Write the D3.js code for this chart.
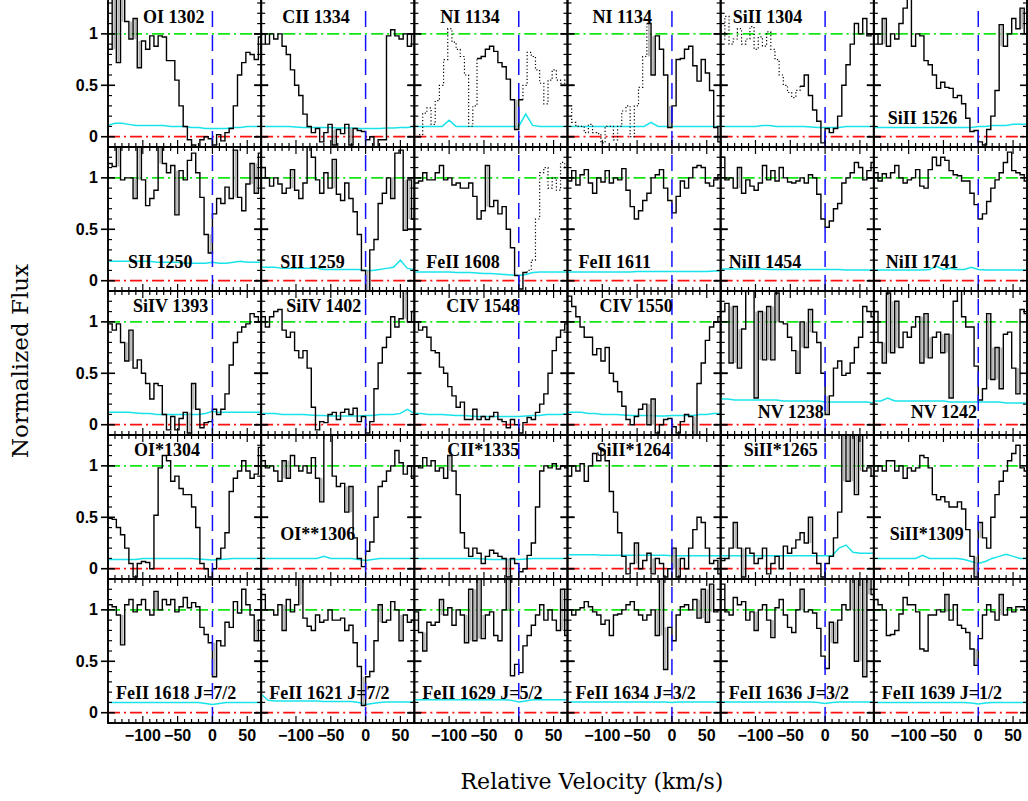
<!DOCTYPE html>
<html>
<head>
<meta charset="utf-8">
<script src="https://cdn.jsdelivr.net/npm/d3@7"></script>
<style>
  body { margin: 0; background: #fff; }
  svg { display: block; }
</style>
</head>
<body>
<div id="chart"></div>
<script>
// velocity grid of the histograms (km/s)
var binStart = -150, binWidth = 6;
// velocity grid of the error spectra (km/s)
var errStart = -150, errStep = 10;

var xTickLabels = [-100, -50, 0, 50];
var yTickLabels = [0, 0.5, 1];

// ---- normalized flux, one value per 6 km/s bin ----
var fluxOI1302 = [0.85,1.4,0.72,1.4,1.12,0.95,1.15,0.67,0.93,0.85,0.98,0.88,0.98,0.97,0.74,0.74,0.55,0.3,0.1,-0.03,-0.08,-0.12,-0.03,0.0,-0.02,-0.08,0.02,-0.04,0.04,0.08,0.3,0.6,0.72,0.82,0.8,0.75,0.97];
var fluxCII1334 = [1.0,0.9,1.0,0.95,1.0,0.88,0.8,0.65,0.5,0.4,0.22,0.1,0.04,0.08,-0.05,0.04,0.12,-0.08,0.07,0.03,0.12,-0.08,0.08,0.06,0.05,-0.03,0.0,-0.1,-0.03,-0.03,0.98,1.04,0.98,0.95,1.0,0.88,1.0];
var fluxNI1134a = [0.0,0.02,0.23,0.28,0.12,0.35,0.5,0.75,1.05,0.92,0.85,0.78,0.6,0.1,0.3,0.76,0.78,0.85,0.88,0.83,0.72,0.68,0.56,0.36,0.07,0.36,0.5,0.82,0.78,0.65,0.52,0.32,0.55,0.65,0.55,0.52,0.55];
var fluxNI1134b = [0.3,0.14,0.1,0.1,0.04,0.12,0.04,0.03,-0.06,0.1,0.1,-0.03,0.1,0.25,0.3,0.0,0.3,0.48,0.78,1.1,0.6,0.98,0.85,0.6,0.09,0.3,0.75,0.76,0.85,0.88,0.69,0.54,0.75,0.62,0.45,0.09,-0.05];
var fluxSiII1304 = [0.95,1.17,0.9,0.95,1.05,0.9,0.95,1.07,0.85,0.97,0.88,1.02,0.85,0.75,0.6,0.5,0.43,0.38,0.45,0.49,0.6,0.4,0.26,0.15,-0.06,0.08,0.04,0.08,0.2,0.5,0.7,0.9,1.1,1.0,1.15,0.98,1.0];
var fluxSiII1526 = [1.0,0.9,1.15,0.88,1.0,0.95,1.1,1.25,1.35,0.88,1.0,0.98,0.74,0.7,0.6,0.47,0.53,0.48,0.47,0.38,0.4,0.32,0.18,0.05,0.06,-0.05,-0.08,0.07,0.2,0.45,1.09,0.88,1.0,1.15,1.05,1.25,1.0];

var fluxSII1250 = [1.14,1.11,1.3,0.98,1.0,1.0,0.8,1.35,0.98,0.73,0.8,0.88,1.35,1.14,1.05,1.12,0.64,1.07,0.98,1.17,1.24,1.05,0.81,0.45,0.27,0.65,0.8,0.75,0.91,0.8,1.27,0.81,0.68,0.94,1.14,0.85,1.24];
var fluxSII1259 = [1.1,1.0,0.92,1.0,0.94,0.85,0.9,1.08,0.88,0.8,0.95,1.3,1.2,0.98,0.85,1.05,0.9,1.18,0.84,0.78,0.95,0.8,0.67,0.45,0.1,-0.1,0.3,0.4,0.75,0.85,1.0,0.8,1.24,1.27,0.49,0.98,0.6];
var fluxFeII1608 = [0.95,0.97,1.05,0.98,0.98,1.05,1.12,0.98,1.0,0.93,0.95,0.9,0.9,0.95,0.82,0.6,0.68,1.12,0.72,0.78,0.65,0.72,0.5,0.32,0.05,-0.08,0.08,0.1,0.2,0.6,1.05,1.1,0.9,1.0,0.88,1.15,1.1];
var fluxFeII1611 = [0.97,1.07,0.93,1.03,1.08,0.95,0.85,1.0,0.96,1.07,0.95,1.0,0.98,1.09,0.88,0.72,0.6,0.68,0.78,0.85,1.0,1.03,1.08,0.9,0.78,0.66,0.82,0.97,0.9,1.0,1.1,1.12,1.1,0.95,0.92,0.98,1.03];
var fluxNiII1454 = [1.2,0.98,1.0,0.9,1.1,0.85,0.98,0.92,0.88,0.95,1.12,0.98,1.07,0.97,1.1,1.0,0.96,0.95,0.97,1.0,0.95,1.03,1.0,0.84,0.6,0.52,0.58,0.7,0.75,0.95,1.0,1.05,1.15,1.1,0.98,1.07,1.15];
var fluxNiII1741 = [1.05,0.97,1.04,1.0,1.05,1.12,1.0,0.95,0.98,1.0,1.08,0.92,0.9,1.08,1.2,1.12,1.2,1.17,1.07,1.03,1.02,0.97,0.97,0.85,0.74,0.6,0.65,0.77,0.9,0.98,1.05,1.15,1.25,1.07,1.05,1.03,0.97];

var fluxSiIV1393 = [0.98,0.92,0.98,0.8,0.62,0.92,0.55,0.63,0.5,0.4,0.25,0.4,0.38,0.1,-0.05,0.08,-0.05,0.06,0.12,-0.08,0.4,0.15,-0.03,0.02,0.03,0.15,0.1,0.15,0.3,0.58,0.8,0.9,0.95,0.98,1.08,1.05,1.0];
var fluxSiIV1402 = [1.05,0.95,1.05,1.1,1.12,0.92,0.85,0.9,0.72,0.65,0.72,0.55,0.17,-0.05,0.03,0.02,0.1,0.12,0.05,0.12,0.15,0.1,0.16,0.03,0.08,-0.08,0.03,0.35,0.6,0.75,0.85,1.05,0.95,1.03,1.3,1.0,1.1];
var fluxCIV1548 = [1.0,0.92,0.95,0.85,0.72,0.7,0.56,0.5,0.37,0.28,0.17,0.22,0.05,0.05,0.15,0.05,0.08,0.05,0.08,0.12,0.05,0.03,-0.03,0.05,0.0,-0.08,0.02,0.07,0.05,0.12,0.2,0.3,0.5,0.72,0.85,0.92,0.98];
var fluxCIV1550 = [1.25,1.15,1.05,0.95,0.85,0.85,0.68,0.74,0.62,0.75,0.5,0.42,0.32,0.18,0.05,0.0,0.08,0.15,0.2,0.0,0.25,-0.08,0.0,0.05,0.06,-0.02,-0.08,0.03,0.1,0.08,-0.1,0.4,0.6,0.82,0.95,1.0,1.05];
var fluxNV1238 = [1.1,1.18,0.6,1.15,0.55,0.93,1.3,1.35,0.26,1.1,0.63,1.15,0.63,1.28,1.0,0.98,0.85,0.72,0.5,1.0,0.75,1.12,0.9,0.8,0.5,0.1,0.28,0.55,0.62,0.48,0.5,0.6,0.75,0.85,1.15,1.1,1.05];
var fluxNV1242 = [1.1,0.8,0.6,1.28,0.7,1.2,0.75,0.9,0.85,0.95,1.05,0.6,1.08,0.65,0.85,0.9,0.7,0.88,0.26,1.2,1.3,1.05,0.95,0.95,0.57,0.24,0.35,1.08,0.44,0.75,0.35,0.88,0.9,0.55,0.3,1.12,1.08];

var fluxOIs1304 = [0.49,0.48,0.4,0.33,0.2,0.05,-0.08,0.05,0.07,0.06,0.0,0.52,0.98,1.1,1.05,0.85,0.9,0.78,0.72,0.72,0.6,0.4,0.05,0.0,-0.08,0.0,0.1,0.2,0.35,0.75,0.88,0.95,1.05,0.95,0.88,0.92,1.18];
var fluxOIss1306 = [1.05,0.98,1.0,0.95,0.85,1.05,0.88,1.1,1.0,0.95,1.0,0.93,1.08,0.88,0.65,1.3,1.35,0.9,0.8,0.83,0.55,0.8,0.3,0.1,0.02,0.17,0.26,0.5,0.8,0.85,0.95,1.0,1.15,1.03,0.92,1.0,0.88];
var fluxCIIs1335 = [1.0,0.98,1.08,1.0,1.05,0.95,0.98,0.88,1.1,0.95,0.72,0.35,0.2,0.12,0.2,0.15,0.05,0.12,0.18,0.15,0.12,0.1,-0.08,0.1,0.05,-0.03,0.0,0.13,0.25,0.6,0.95,1.0,0.98,1.02,0.97,1.0,0.98];
var fluxSiIIs1264 = [0.9,1.0,0.95,1.02,0.85,1.0,1.12,1.05,1.15,1.05,0.75,0.55,0.35,0.12,-0.05,0.05,0.25,0.0,0.08,0.15,-0.05,0.1,0.05,-0.08,0.0,0.2,-0.08,0.1,0.0,0.2,0.38,0.5,0.45,0.2,0.05,0.08,-0.05];
var fluxSiIIs1265 = [0.08,0.1,0.2,0.45,0.2,-0.08,0.2,0.15,0.05,0.1,0.2,-0.05,0.05,0.12,0.0,0.22,0.15,0.2,0.28,0.35,0.25,0.5,0.15,0.05,-0.08,0.05,0.12,0.3,0.55,1.35,0.85,1.35,0.72,1.35,0.95,0.98,0.9];
var fluxSiIIs1309 = [0.95,1.0,0.95,1.05,1.05,0.95,1.0,0.88,0.98,0.95,0.98,1.1,1.08,0.98,0.72,0.67,0.7,0.65,0.6,0.6,0.65,0.58,0.38,0.12,-0.08,0.45,0.3,0.2,0.5,0.72,0.85,0.95,1.05,1.12,1.2,0.98,0.95];

var fluxFeII1618 = [1.05,1.03,0.95,0.66,1.05,1.1,0.98,1.05,1.1,1.0,0.95,1.18,1.0,1.1,1.05,1.1,0.98,1.03,1.12,1.02,1.07,1.03,0.83,0.76,0.68,0.35,0.7,0.65,0.88,0.83,1.08,0.97,1.2,1.05,0.95,0.7,0.9];
var fluxFeII1621 = [1.15,1.0,1.0,0.95,1.05,0.8,1.1,0.98,1.05,1.3,0.92,0.84,0.8,0.95,0.88,0.9,1.0,0.9,0.9,0.92,0.8,0.85,0.68,0.45,0.07,0.35,0.4,0.7,1.05,0.88,0.9,1.08,1.0,0.7,0.95,0.88,0.9];
var fluxFeII1629 = [0.98,0.78,0.6,0.88,0.85,0.88,1.1,0.95,1.02,0.85,1.0,0.95,0.68,1.2,0.7,1.3,0.72,0.95,0.98,0.75,0.7,1.0,1.3,0.36,0.47,0.39,0.65,0.75,0.85,0.95,1.05,0.9,1.0,0.9,0.8,1.2,0.75];
var fluxFeII1634 = [1.0,0.95,1.0,1.02,1.08,1.03,0.98,0.95,0.86,0.9,0.75,0.95,0.96,1.0,1.05,1.08,1.0,0.95,0.9,0.95,1.0,0.75,1.3,0.42,0.83,0.7,0.95,1.03,1.05,1.0,1.1,0.92,1.2,0.88,1.25,0.98,1.0];
var fluxFeII1636 = [1.25,0.98,0.95,1.12,1.05,1.08,0.9,0.98,0.8,1.0,1.05,0.9,0.73,1.02,1.1,0.95,0.83,0.78,1.0,1.2,0.98,1.0,0.97,0.82,0.55,0.43,0.88,0.68,0.9,1.05,1.0,1.3,0.5,1.35,0.35,1.35,1.15];
var fluxFeII1639 = [1.1,1.05,1.0,0.75,0.76,0.8,0.96,1.12,1.05,1.05,0.98,0.62,0.6,0.95,0.95,1.0,0.98,1.15,0.9,1.05,0.85,0.82,0.78,0.62,0.46,0.72,0.95,1.05,0.98,0.9,1.15,0.95,1.02,0.98,1.03,1.03,1.0];

// ---- 1-sigma error spectra, one value per 10 km/s ----
var errOI1302 = [0.11,0.13,0.13,0.12,0.11,0.11,0.11,0.11,0.11,0.1,0.1,0.1,0.09,0.09,0.08,0.08,0.08,0.08,0.09,0.09,0.1,0.1,0.1];
var errCII1334 = [0.1,0.1,0.1,0.1,0.1,0.095,0.09,0.09,0.09,0.09,0.09,0.085,0.085,0.085,0.08,0.08,0.08,0.08,0.085,0.085,0.09,0.09,0.1];
var errNI1134a = [0.1,0.1,0.1,0.1,0.1,0.16,0.1,0.1,0.1,0.1,0.1,0.1,0.1,0.1,0.1,0.1,0.22,0.11,0.1,0.1,0.1,0.1,0.1];
var errNI1134b = [0.1,0.1,0.1,0.1,0.1,0.1,0.1,0.1,0.1,0.1,0.1,0.1,0.14,0.1,0.1,0.1,0.1,0.1,0.1,0.1,0.1,0.1,0.1];
var errSiII1304 = [0.1,0.1,0.1,0.1,0.1,0.1,0.11,0.11,0.1,0.1,0.1,0.1,0.1,0.095,0.09,0.09,0.09,0.09,0.1,0.1,0.1,0.1,0.1];
var errSiII1526 = [0.09,0.09,0.09,0.09,0.09,0.09,0.09,0.09,0.09,0.09,0.09,0.09,0.09,0.09,0.09,0.1,0.1,0.11,0.11,0.11,0.12,0.12,0.12];

var errSII1250 = [0.19,0.19,0.19,0.19,0.19,0.19,0.19,0.18,0.18,0.18,0.18,0.17,0.17,0.17,0.17,0.18,0.17,0.17,0.18,0.19,0.18,0.18,0.18];
var errSII1259 = [0.13,0.13,0.13,0.12,0.12,0.12,0.12,0.12,0.12,0.11,0.11,0.11,0.11,0.11,0.11,0.1,0.1,0.11,0.12,0.13,0.2,0.12,0.11];
var errFeII1608 = [0.085,0.085,0.085,0.085,0.085,0.085,0.08,0.08,0.08,0.075,0.07,0.07,0.065,0.06,0.055,0.05,0.06,0.08,0.085,0.085,0.085,0.085,0.085];
var errFeII1611 = [0.085,0.085,0.085,0.085,0.085,0.085,0.085,0.085,0.085,0.085,0.09,0.09,0.09,0.09,0.09,0.09,0.09,0.09,0.09,0.09,0.09,0.095,0.095];
var errNiII1454 = [0.115,0.115,0.115,0.115,0.115,0.115,0.115,0.11,0.11,0.11,0.11,0.11,0.11,0.11,0.11,0.11,0.11,0.11,0.105,0.105,0.105,0.105,0.105];
var errNiII1741 = [0.105,0.105,0.105,0.105,0.105,0.105,0.105,0.105,0.11,0.14,0.11,0.12,0.11,0.11,0.13,0.11,0.105,0.105,0.105,0.105,0.105,0.105,0.105];

var errSiIV1393 = [0.12,0.12,0.12,0.12,0.115,0.11,0.11,0.1,0.1,0.1,0.1,0.1,0.1,0.1,0.11,0.13,0.12,0.12,0.12,0.12,0.12,0.12,0.12];
var errSiIV1402 = [0.11,0.11,0.11,0.1,0.1,0.1,0.1,0.095,0.09,0.09,0.085,0.085,0.085,0.085,0.085,0.09,0.09,0.1,0.1,0.1,0.11,0.15,0.11];
var errCIV1548 = [0.11,0.11,0.1,0.1,0.1,0.095,0.09,0.09,0.085,0.08,0.08,0.08,0.08,0.08,0.08,0.08,0.085,0.09,0.09,0.1,0.1,0.1,0.11];
var errCIV1550 = [0.12,0.12,0.12,0.11,0.11,0.1,0.1,0.1,0.095,0.09,0.09,0.09,0.09,0.085,0.085,0.09,0.09,0.09,0.09,0.1,0.1,0.11,0.11];
var errNV1238 = [0.25,0.25,0.24,0.24,0.24,0.24,0.24,0.24,0.24,0.23,0.23,0.23,0.23,0.23,0.23,0.22,0.22,0.22,0.22,0.22,0.22,0.22,0.21];
var errNV1242 = [0.23,0.23,0.26,0.23,0.23,0.23,0.23,0.23,0.23,0.23,0.23,0.22,0.22,0.22,0.22,0.22,0.22,0.22,0.22,0.21,0.21,0.21,0.21];

var errOIs1304 = [0.09,0.09,0.09,0.09,0.09,0.1,0.1,0.1,0.1,0.1,0.1,0.1,0.1,0.095,0.09,0.085,0.09,0.095,0.1,0.1,0.1,0.1,0.1];
var errOIss1306 = [0.1,0.1,0.1,0.1,0.1,0.1,0.1,0.1,0.1,0.12,0.1,0.1,0.1,0.1,0.09,0.08,0.09,0.1,0.1,0.1,0.1,0.1,0.1];
var errCIIs1335 = [0.1,0.1,0.1,0.1,0.1,0.1,0.1,0.1,0.1,0.1,0.095,0.09,0.09,0.09,0.09,0.09,0.095,0.1,0.1,0.1,0.1,0.1,0.1];
var errSiIIs1264 = [0.135,0.135,0.135,0.135,0.135,0.13,0.13,0.13,0.13,0.13,0.13,0.13,0.13,0.13,0.13,0.125,0.125,0.125,0.125,0.125,0.125,0.125,0.125];
var errSiIIs1265 = [0.125,0.125,0.125,0.125,0.125,0.125,0.125,0.125,0.125,0.125,0.125,0.125,0.125,0.125,0.125,0.125,0.125,0.2,0.23,0.16,0.15,0.15,0.15];
var errSiIIs1309 = [0.1,0.1,0.1,0.1,0.1,0.1,0.1,0.13,0.1,0.1,0.1,0.1,0.1,0.09,0.07,0.05,0.07,0.1,0.12,0.14,0.12,0.1,0.1];

var errFeII1618 = [0.1,0.1,0.1,0.1,0.1,0.1,0.1,0.1,0.1,0.1,0.1,0.1,0.1,0.1,0.09,0.08,0.09,0.1,0.1,0.1,0.1,0.1,0.1];
var errFeII1621 = [0.18,0.12,0.115,0.115,0.115,0.115,0.115,0.115,0.115,0.11,0.11,0.11,0.11,0.11,0.1,0.08,0.09,0.1,0.105,0.105,0.105,0.105,0.105];
var errFeII1629 = [0.125,0.125,0.125,0.125,0.125,0.125,0.125,0.125,0.125,0.125,0.125,0.125,0.125,0.125,0.12,0.105,0.115,0.125,0.125,0.125,0.125,0.125,0.125];
var errFeII1634 = [0.105,0.105,0.105,0.105,0.105,0.105,0.105,0.105,0.105,0.105,0.105,0.105,0.105,0.105,0.105,0.1,0.105,0.105,0.105,0.105,0.105,0.105,0.105];
var errFeII1636 = [0.105,0.105,0.105,0.105,0.105,0.105,0.105,0.105,0.105,0.105,0.105,0.105,0.105,0.105,0.1,0.09,0.1,0.105,0.105,0.105,0.105,0.105,0.105];
var errFeII1639 = [0.1,0.1,0.1,0.1,0.1,0.1,0.1,0.1,0.1,0.1,0.1,0.1,0.1,0.1,0.095,0.085,0.095,0.1,0.1,0.1,0.1,0.1,0.1];

// transition names, row by row
var panelNames = [
  "OI 1302", "CII 1334", "NI 1134", "NI 1134", "SiII 1304", "SiII 1526",
  "SII 1250", "SII 1259", "FeII 1608", "FeII 1611", "NiII 1454", "NiII 1741",
  "SiIV 1393", "SiIV 1402", "CIV 1548", "CIV 1550", "NV 1238", "NV 1242",
  "OI*1304", "OI**1306", "CII*1335", "SiII*1264", "SiII*1265", "SiII*1309",
  "FeII 1618 J=7/2", "FeII 1621 J=7/2", "FeII 1629 J=5/2", "FeII 1634 J=3/2", "FeII 1636 J=3/2", "FeII 1639 J=1/2"
];

var panelFlux = [
  fluxOI1302, fluxCII1334, fluxNI1134a, fluxNI1134b, fluxSiII1304, fluxSiII1526,
  fluxSII1250, fluxSII1259, fluxFeII1608, fluxFeII1611, fluxNiII1454, fluxNiII1741,
  fluxSiIV1393, fluxSiIV1402, fluxCIV1548, fluxCIV1550, fluxNV1238, fluxNV1242,
  fluxOIs1304, fluxOIss1306, fluxCIIs1335, fluxSiIIs1264, fluxSiIIs1265, fluxSiIIs1309,
  fluxFeII1618, fluxFeII1621, fluxFeII1629, fluxFeII1634, fluxFeII1636, fluxFeII1639
];

var panelErr = [
  errOI1302, errCII1334, errNI1134a, errNI1134b, errSiII1304, errSiII1526,
  errSII1250, errSII1259, errFeII1608, errFeII1611, errNiII1454, errNiII1741,
  errSiIV1393, errSiIV1402, errCIV1548, errCIV1550, errNV1238, errNV1242,
  errOIs1304, errOIss1306, errCIIs1335, errSiIIs1264, errSiIIs1265, errSiIIs1309,
  errFeII1618, errFeII1621, errFeII1629, errFeII1634, errFeII1636, errFeII1639
];

// bins drawn solid (the rest is blended and drawn dotted); missing = all solid
var solidBins = {2: [15, 25], 3: [19, 36], 4: [19, 36], 8: [0, 26]};

// ---- layout ----
var svgWidth = 1028, svgHeight = 801;
var gridLeft = 108, gridRight = 1027, gridTop = 3;
var nCols = 6, nRows = 5;
var panelW = (gridRight - gridLeft) / nCols;
var panelH = 144;

// label placement inside each panel: [x offset, baseline offset from top]
var labelPlace = [
  [35, 20], [21, 20], [26, 20], [25, 20], [12, 20], [14, 121],
  [20, 121], [19, 121], [12, 121], [11, 121], [8, 121], [12, 121],
  [25, 21], [25, 21], [32, 21], [32, 21], [37, 127], [37, 127],
  [26, 21], [19, 105], [33, 21], [29, 21], [23, 21], [16, 105],
  [8, 120], [8, 120], [8, 120], [8, 120], [8, 120], [8, 120]
];

var svg = d3.select("#chart")
  .append("svg")
  .attr("width", svgWidth)
  .attr("height", svgHeight)
  .style("background", "#fff");

var defs = svg.append("defs");

var stepLine = d3.line().curve(d3.curveStepAfter);

panelNames.forEach(function(name, i) {
  var row = Math.floor(i / nCols), col = i % nCols;
  var left = gridLeft + col * panelW;
  var top = gridTop + row * panelH;

  var x = d3.scaleLinear().domain([-150, 70]).range([left, left + panelW]);
  var y = d3.scaleLinear().domain([-0.1, 1.3]).range([top + panelH, top]);

  var clipTop = row === 0 ? 0 : top;
  defs.append("clipPath").attr("id", "clip" + i)
    .append("rect")
    .attr("x", left).attr("y", clipTop)
    .attr("width", panelW).attr("height", top + panelH - clipTop);

  var g = svg.append("g");
  var inner = g.append("g").attr("clip-path", "url(#clip" + i + ")");

  // error spectrum
  var err = panelErr[i];
  inner.append("path")
    .attr("d", d3.line()(err.map(function(e, k) { return [x(errStart + k * errStep), y(e)]; })))
    .attr("fill", "none")
    .attr("stroke", "#19e3ea")
    .attr("stroke-width", 1.5);

  // continuum and zero level
  inner.append("line")
    .attr("x1", left).attr("x2", left + panelW)
    .attr("y1", y(1)).attr("y2", y(1))
    .attr("stroke", "#14e614").attr("stroke-width", 1.7)
    .attr("stroke-dasharray", "12,4,2,4");
  inner.append("line")
    .attr("x1", left).attr("x2", left + panelW)
    .attr("y1", y(0)).attr("y2", y(0))
    .attr("stroke", "#ff1010").attr("stroke-width", 1.7)
    .attr("stroke-dasharray", "12,4,2,4");

  // label
  g.append("text")
    .attr("x", left + labelPlace[i][0])
    .attr("y", top + labelPlace[i][1])
    .attr("font-family", "'Liberation Serif', 'Times New Roman', serif")
    .attr("font-weight", "bold")
    .attr("font-size", "18px")
    .attr("fill", "#000")
    .text(name);

  // flux histogram
  var flux = panelFlux[i];
  var n = flux.length;
  var edge = function(k) { return x(binStart + k * binWidth); };
  function segment(a, b, leadIn, trailTo) {
    var pts = [];
    if (leadIn) pts.push([edge(a), y(flux[a - 1])]);
    for (var k = a; k <= b; k++) pts.push([edge(k), y(flux[k])]);
    pts.push([edge(b + 1), y(flux[b])]);
    if (trailTo) pts.push([edge(b + 1), y(flux[b + 1])]);
    return stepLine(pts);
  }
  var solid = solidBins[i] || [0, n - 1];

  // light shading inside single-bin spikes
  for (var k = Math.max(1, solid[0]); k <= Math.min(n - 2, solid[1]); k++) {
    var hi = Math.max(flux[k - 1], flux[k + 1]);
    var lo = Math.min(flux[k - 1], flux[k + 1]);
    var y0 = null, y1 = null;
    if (flux[k] > hi + 0.15) { y0 = y(flux[k]); y1 = y(hi); }
    else if (flux[k] < lo - 0.15) { y0 = y(lo); y1 = y(flux[k]); }
    if (y0 !== null) {
      inner.append("rect")
        .attr("x", edge(k) + 1.2).attr("y", y0)
        .attr("width", Math.max(0, edge(k + 1) - edge(k) - 2.4))
        .attr("height", y1 - y0)
        .attr("fill", "#b4b4b4");
    }
  }

  inner.append("path")
    .attr("d", segment(solid[0], solid[1], false, false))
    .attr("fill", "none").attr("stroke", "#000").attr("stroke-width", 1.4);

  if (solid[0] > 0) {
    inner.append("path")
      .attr("d", segment(0, solid[0] - 1, false, true))
      .attr("fill", "none").attr("stroke", "#000").attr("stroke-width", 1.2)
      .attr("stroke-dasharray", "1.2,2.2");
  }
  if (solid[1] < n - 1) {
    inner.append("path")
      .attr("d", segment(solid[1] + 1, n - 1, true, false))
      .attr("fill", "none").attr("stroke", "#000").attr("stroke-width", 1.2)
      .attr("stroke-dasharray", "1.2,2.2");
  }

  // zero-velocity marker
  inner.append("line")
    .attr("x1", x(0)).attr("x2", x(0))
    .attr("y1", y(-0.1)).attr("y2", y(1.3))
    .attr("stroke", "#1010ff").attr("stroke-width", 1.5)
    .attr("stroke-dasharray", "16,8");

  // frame
  g.append("rect")
    .attr("x", left).attr("y", row === 0 ? -2 : top)
    .attr("width", panelW).attr("height", top + panelH - (row === 0 ? -2 : top))
    .attr("fill", "none").attr("stroke", "#000").attr("stroke-width", 1.9);

  // x ticks, top and bottom, pointing inward
  d3.range(-150, 71, 10).forEach(function(v) {
    var major = v % 50 === 0;
    var len = major ? 7 : 4;
    g.append("line").attr("x1", x(v)).attr("x2", x(v))
      .attr("y1", y(-0.1)).attr("y2", y(-0.1) - len)
      .attr("stroke", "#000").attr("stroke-width", 1.2);
    if (row > 0) {
      g.append("line").attr("x1", x(v)).attr("x2", x(v))
        .attr("y1", y(1.3)).attr("y2", y(1.3) + len)
        .attr("stroke", "#000").attr("stroke-width", 1.2);
    }
  });

  // y ticks, left and right
  d3.range(-1, 14).forEach(function(t) {
    var v = t / 10;
    var major = t % 5 === 0;
    var py = y(v);
    if (major) {
      [left, left + panelW].forEach(function(px) {
        g.append("line").attr("x1", px - 7).attr("x2", px + 7)
          .attr("y1", py).attr("y2", py)
          .attr("stroke", "#000").attr("stroke-width", 1.6);
      });
    } else {
      g.append("line").attr("x1", left).attr("x2", left + 4)
        .attr("y1", py).attr("y2", py)
        .attr("stroke", "#000").attr("stroke-width", 1.2);
      g.append("line").attr("x1", left + panelW).attr("x2", left + panelW - 4)
        .attr("y1", py).attr("y2", py)
        .attr("stroke", "#000").attr("stroke-width", 1.2);
    }
  });

  // tick labels
  if (col === 0) {
    yTickLabels.forEach(function(v) {
      g.append("text")
        .attr("x", left - 10).attr("y", y(v))
        .attr("dy", "0.35em")
        .attr("text-anchor", "end")
        .attr("font-family", "'Liberation Sans', Arial, sans-serif")
        .attr("font-weight", "bold")
        .attr("font-size", "16px")
        .text(String(v));
    });
  }
  if (row === nRows - 1) {
    xTickLabels.forEach(function(v) {
      g.append("text")
        .attr("x", x(v)).attr("y", y(-0.1) + 18)
        .attr("text-anchor", "middle")
        .attr("font-family", "'Liberation Sans', Arial, sans-serif")
        .attr("font-weight", "bold")
        .attr("font-size", "16px")
        .text(v < 0 ? "\u2212" + Math.abs(v) : String(v));
    });
  }
});

// axis titles
svg.append("text")
  .attr("x", 592).attr("y", 789)
  .attr("text-anchor", "middle")
  .attr("font-family", "'DejaVu Serif', serif")
  .attr("font-size", "22px")
  .text("Relative Velocity (km/s)");

svg.append("text")
  .attr("transform", "translate(28, 361) rotate(-90)")
  .attr("text-anchor", "middle")
  .attr("font-family", "'DejaVu Serif', serif")
  .attr("font-size", "23px")
  .text("Normalized Flux");
</script>
</body>
</html>
